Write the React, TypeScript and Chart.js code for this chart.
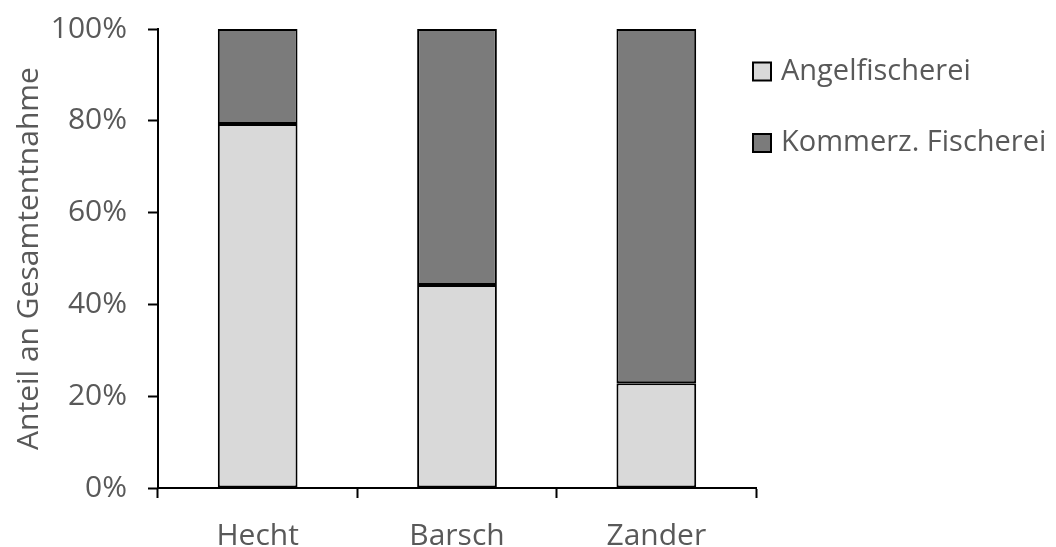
import React, { useEffect, useRef } from "react";
import { Chart, registerables } from "chart.js";

Chart.register(...registerables);

const categories = ["Hecht", "Barsch", "Zander"];
const seriesNames = ["Angelfischerei", "Kommerz. Fischerei"];
const angelfischerei = [79.3, 44.2, 22.8];
const kommerziell = [20.7, 55.8, 77.2];
const yTickValues = [0, 20, 40, 60, 80, 100];
const yTitle = "Anteil an Gesamtentnahme";

const FONT = "'Open Sans', sans-serif";
const FONT_SIZE = 30;
const LEGEND_FONT_SIZE = 29;
const TEXT = "#595959";
const COLORS = ["#d9d9d9", "#7b7b7b"];

const sideLegend = {
  id: "sideLegend",
  afterDraw(chart: any) {
    const { ctx, chartArea } = chart;
    const x0 = chartArea.right - 3;
    const size = 18;
    chart.data.datasets.forEach((ds: any, i: number) => {
      const cy = chartArea.top + 42.5 + i * 71.5;
      ctx.save();
      ctx.fillStyle = ds.backgroundColor;
      ctx.fillRect(x0, cy - size / 2, size, size);
      ctx.strokeStyle = "#000";
      ctx.lineWidth = 2;
      ctx.strokeRect(x0, cy - size / 2, size, size);
      ctx.font = `${LEGEND_FONT_SIZE}px ${FONT}`;
      ctx.fillStyle = TEXT;
      ctx.textBaseline = "middle";
      ctx.textAlign = "left";
      ctx.fillText(ds.label, x0 + 28, cy);
      ctx.restore();
    });
  },
};

export default function App() {
  const ref = useRef<HTMLCanvasElement | null>(null);
  useEffect(() => {
    if (!ref.current) return;
    const chart = new Chart(ref.current, {
      type: "bar",
      data: {
        labels: categories,
        datasets: [
          {
            label: seriesNames[0],
            data: angelfischerei,
            backgroundColor: COLORS[0],
            borderColor: "#000",
            borderWidth: 2,
            borderSkipped: false,
            categoryPercentage: 1,
            barPercentage: 0.4,
          },
          {
            label: seriesNames[1],
            data: kommerziell,
            backgroundColor: COLORS[1],
            borderColor: "#000",
            borderWidth: 2,
            borderSkipped: false,
            categoryPercentage: 1,
            barPercentage: 0.4,
          },
        ],
      },
      options: {
        animation: false,
        responsive: true,
        maintainAspectRatio: false,
        layout: { padding: { left: 0, right: 300, top: 29, bottom: 0 } },
        plugins: {
          legend: { display: false },
          tooltip: { enabled: false },
        },
        scales: {
          x: {
            stacked: true,
            afterFit: (s: any) => {
              s.height = 59;
              s.paddingLeft = 0;
              s.paddingRight = 0;
            },
            grid: {
              offset: true,
              drawOnChartArea: false,
              drawTicks: true,
              tickLength: 10,
              tickWidth: 2,
              color: "#000",
            },
            border: { color: "#000", width: 2 },
            ticks: {
              color: TEXT,
              font: { family: FONT, size: FONT_SIZE },
              padding: 20,
            },
          },
          y: {
            stacked: true,
            min: 0,
            max: 100,
            afterFit: (s: any) => {
              s.width = 158;
              s.paddingTop = 0;
              s.paddingBottom = 0;
            },
            afterBuildTicks: (s: any) => {
              s.ticks = yTickValues.map((v) => ({ value: v }));
            },
            grid: {
              drawOnChartArea: false,
              drawTicks: true,
              tickLength: 10,
              tickWidth: 2,
              color: "#000",
            },
            border: { color: "#000", width: 2 },
            ticks: {
              color: TEXT,
              font: { family: FONT, size: FONT_SIZE },
              padding: 21,
              callback: (v: any) => `${v}%`,
            },
            title: {
              display: true,
              text: yTitle,
              color: TEXT,
              font: { family: FONT, size: FONT_SIZE },
              padding: { top: 11, bottom: 0 },
            },
          },
        },
      },
      plugins: [sideLegend],
    });
    return () => chart.destroy();
  }, []);
  return (
    <div style={{ position: "absolute", left: 0, top: 0, width: 1056, height: 547 }}>
      <canvas ref={ref} />
    </div>
  );
}
